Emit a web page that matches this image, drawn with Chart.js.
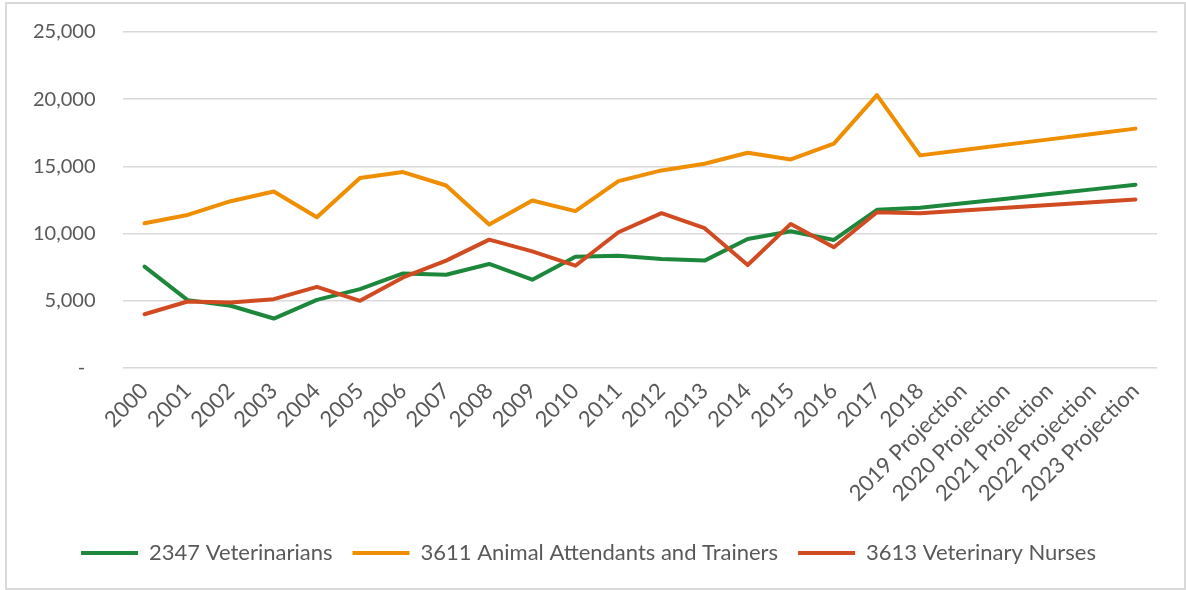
<!DOCTYPE html>
<html lang="en">
<head>
    <meta charset="UTF-8">
    <title>Animal care occupations</title>
    <style>
        body {
            margin: 0;
            padding: 0;
            background-color: white;
        }

        #wrap {
            position: relative;
            width: 1186px;
            height: 590px;
        }

        #chartContainer {
            width: 1186px;
            height: 590px;
        }

        #frame {
            position: absolute;
            left: 5px;
            top: 2px;
            width: 1177px;
            height: 584px;
            border: 2px solid #d9d9d9;
            pointer-events: none;
        }
    </style>
</head>
<body>
    <div id="wrap">
        <canvas id="chartContainer"></canvas>
        <div id="frame"></div>
    </div>

    <script src="https://cdn.jsdelivr.net/npm/chart.js"></script>
    <script>
        // categories
        const years = ['2000', '2001', '2002', '2003', '2004', '2005', '2006', '2007', '2008', '2009',
            '2010', '2011', '2012', '2013', '2014', '2015', '2016', '2017', '2018',
            '2019 Projection', '2020 Projection', '2021 Projection', '2022 Projection', '2023 Projection'];

        // series values
        const veterinarians = [7540, 5050, 4630, 3680, 5070, 5870, 7040, 6940, 7740, 6570,
            8280, 8360, 8110, 7990, 9600, 10170, 9530, 11770, 11920,
            12260, 12600, 12950, 13290, 13630];
        const attendants = [10770, 11390, 12410, 13130, 11220, 14130, 14580, 13580, 10670, 12460,
            11670, 13900, 14700, 15200, 16020, 15520, 16690, 20300, 15820,
            16220, 16620, 17010, 17410, 17810];
        const nurses = [4000, 4950, 4880, 5120, 6040, 5000, 6740, 7990, 9550, 8680,
            7610, 10100, 11520, 10400, 7660, 10720, 8980, 11590, 11520,
            11720, 11930, 12130, 12340, 12540];

        // y-axis ticks
        const yTicks = [0, 5000, 10000, 15000, 20000, 25000];

        const seriesNames = ['2347 Veterinarians', '3611 Animal Attendants and Trainers', '3613 Veterinary Nurses'];
        const colors = ['#1d873c', '#ee8e00', '#d14b22'];

        const family = 'Lato, "Liberation Sans", sans-serif';

        function makeSet(i, values) {
            return {
                label: seriesNames[i],
                data: values,
                borderColor: colors[i],
                backgroundColor: colors[i],
                borderWidth: 4,
                borderCapStyle: 'round',
                borderJoinStyle: 'round',
                pointRadius: 0,
                tension: 0,
                order: 3 - i   // later series drawn on top
            };
        }

        const ctx = document.getElementById('chartContainer').getContext('2d');
        new Chart(ctx, {
            type: 'line',
            data: {
                labels: years,
                datasets: [
                    makeSet(0, veterinarians),
                    makeSet(1, attendants),
                    makeSet(2, nurses)
                ]
            },
            options: {
                responsive: false,
                animation: false,
                layout: {
                    padding: { top: 32, right: 29, bottom: 19, left: 20 }
                },
                plugins: {
                    tooltip: { enabled: false },
                    legend: {
                        position: 'bottom',
                        labels: {
                            color: '#595959',
                            font: { family: family, size: 22 },
                            usePointStyle: true,
                            pointStyle: 'line',
                            pointStyleWidth: 57,
                            padding: 20,
                            sort: (a, b) => a.datasetIndex - b.datasetIndex
                        }
                    }
                },
                scales: {
                    x: {
                        offset: true,
                        grid: { display: false },
                        border: { display: false },
                        ticks: {
                            color: '#595959',
                            font: { family: family, size: 22 },
                            minRotation: 45,
                            maxRotation: 45,
                            autoSkip: false,
                            padding: 2
                        },
                        afterFit: function (scale) {
                            scale.height = 154;
                        }
                    },
                    y: {
                        min: yTicks[0],
                        max: yTicks[yTicks.length - 1],
                        afterBuildTicks: function (scale) {
                            scale.ticks = yTicks.map(v => ({ value: v }));
                        },
                        grid: { color: '#d9d9d9', lineWidth: 1.5, drawTicks: false },
                        border: { display: false },
                        ticks: {
                            color: '#595959',
                            font: { family: family, size: 20 },
                            padding: 7,
                            // trailing spaces keep the labels clear of the plot like the original
                            callback: function (value) {
                                return (value === 0 ? '-  ' : value.toLocaleString('en-US')) + '    ';
                            }
                        },
                        afterFit: function (scale) {
                            scale.width = 103;
                        }
                    }
                }
            }
        });
    </script>
</body>
</html>
